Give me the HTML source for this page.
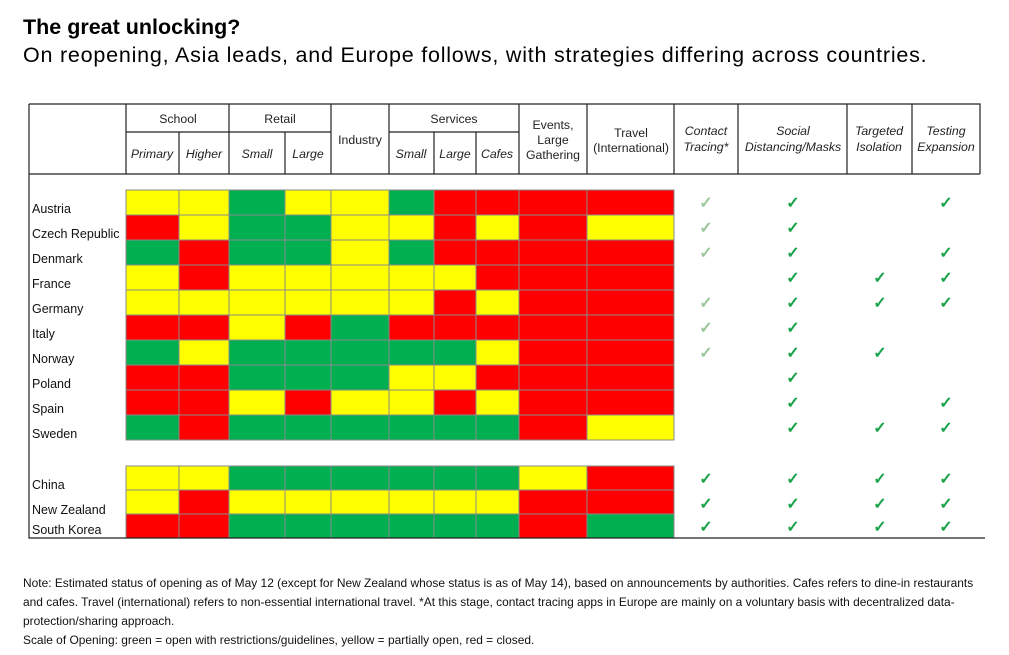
<!DOCTYPE html>
<html><head><meta charset="utf-8"><style>
body{margin:0;background:#fff;width:1009px;height:655px;overflow:hidden;font-family:"Liberation Sans",Arial,sans-serif;}
.t{position:absolute;left:23px;top:15px;font-size:21.5px;font-weight:bold;color:#000}
.s{position:absolute;left:23px;top:43px;font-size:21.5px;letter-spacing:0.78px;color:#000;white-space:nowrap}
.n{position:absolute;left:23px;top:574px;font-size:11.95px;line-height:19px;color:#111;white-space:nowrap}
svg{position:absolute;left:0;top:0}
</style></head><body>
<div class="t">The great unlocking?</div>
<div class="s">On reopening, Asia leads, and Europe follows, with strategies differing across countries.</div>
<svg width="1009" height="655" font-family="Liberation Sans, Arial, sans-serif" font-size="12.3">
<g id="cells"></g>
<g stroke="#222" stroke-width="1.2" fill="none">
<path d="M29 104H980V174M29 104V538H985M29 174H980"/>
<path d="M126 104V174M179 132V174M229 104V174M285 132V174M331 104V174M389 104V174M434 132V174M476 132V174M519 104V174M587 104V174M674 104V174M738 104V174M847 104V174M912 104V174"/>
<path d="M126 132H331M389 132H519"/>
</g>
<g fill="#222" text-anchor="middle">
<text x="178" y="123">School</text><text x="280" y="123">Retail</text><text x="454" y="123">Services</text>
<text x="360" y="144">Industry</text>
<g font-style="italic"><text x="152" y="158">Primary</text><text x="204" y="158">Higher</text><text x="257" y="158">Small</text><text x="308" y="158">Large</text><text x="411" y="158">Small</text><text x="455" y="158">Large</text><text x="497" y="158">Cafes</text></g>
<text x="553" y="129">Events,</text><text x="553" y="144">Large</text><text x="553" y="159">Gathering</text>
<text x="631" y="137">Travel</text><text x="631" y="152">(International)</text>
<g font-style="italic"><text x="706" y="135">Contact</text><text x="706" y="151">Tracing*</text>
<text x="793" y="135">Social</text><text x="793" y="151">Distancing/Masks</text>
<text x="879" y="135">Targeted</text><text x="879" y="151">Isolation</text>
<text x="946" y="135">Testing</text><text x="946" y="151">Expansion</text></g>
</g>
<g fill="#111" font-size="12.5">
<text x="32" y="213">Austria</text><text x="32" y="238">Czech Republic</text><text x="32" y="263">Denmark</text><text x="32" y="288">France</text><text x="32" y="313">Germany</text><text x="32" y="338">Italy</text><text x="32" y="363">Norway</text><text x="32" y="388">Poland</text><text x="32" y="413">Spain</text><text x="32" y="438">Sweden</text>
<text x="32" y="489">China</text><text x="32" y="514">New Zealand</text><text x="32" y="534">South Korea</text>
</g>
<g font-size="16" font-weight="bold" text-anchor="middle" fill="#1aa34a">
<g fill="#9cc79c"><text x="706" y="208">✓</text><text x="706" y="233">✓</text><text x="706" y="258">✓</text><text x="706" y="308">✓</text><text x="706" y="333">✓</text><text x="706" y="358">✓</text></g>
<text x="793" y="208">✓</text><text x="793" y="233">✓</text><text x="793" y="258">✓</text><text x="793" y="283">✓</text><text x="793" y="308">✓</text><text x="793" y="333">✓</text><text x="793" y="358">✓</text><text x="793" y="383">✓</text><text x="793" y="408">✓</text><text x="793" y="433">✓</text>
<text x="880" y="283">✓</text><text x="880" y="308">✓</text><text x="880" y="358">✓</text><text x="880" y="433">✓</text>
<text x="946" y="208">✓</text><text x="946" y="258">✓</text><text x="946" y="283">✓</text><text x="946" y="308">✓</text><text x="946" y="408">✓</text><text x="946" y="433">✓</text>
<text x="706" y="484">✓</text><text x="706" y="509">✓</text><text x="706" y="532">✓</text>
<text x="793" y="484">✓</text><text x="793" y="509">✓</text><text x="793" y="532">✓</text>
<text x="880" y="484">✓</text><text x="880" y="509">✓</text><text x="880" y="532">✓</text>
<text x="946" y="484">✓</text><text x="946" y="509">✓</text><text x="946" y="532">✓</text>
</g>
</svg>
<div class="n">Note: Estimated status of opening as of May 12 (except for New Zealand whose status is as of May 14), based on announcements by authorities. Cafes refers to dine-in restaurants<br>and cafes. Travel (international) refers to non-essential international travel. *At this stage, contact tracing apps in Europe are mainly on a voluntary basis with decentralized data-<br>protection/sharing approach.<br>Scale of Opening: green = open with restrictions/guidelines, yellow = partially open, red = closed.</div>
<script>
var xs=[126,179,229,285,331,389,434,476,519,587,674];
var rows=["YYGYYGRRRR","RYGGYYRYRY","GRGGYGRRRR","YRYYYYYRRR","YYYYYYRYRR","RRYRGRRRRR","GYGGGGGYRR","RRGGGYYRRR","RRYRYYRYRR","GRGGGGGGRY","YYGGGGGGYR","YRYYYYYYRR","RRGGGGGGRG"];
var ys=[190,215,240,265,290,315,340,365,390,415,466,490,514],hs=[25,25,25,25,25,25,25,25,25,25,24,24,24];
var col={Y:"#ffff00",G:"#00b050",R:"#ff0000"},h="";
rows.forEach(function(r,i){for(var j=0;j<10;j++)h+='<rect x="'+xs[j]+'" y="'+ys[i]+'" width="'+(xs[j+1]-xs[j])+'" height="'+hs[i]+'" fill="'+col[r[j]]+'" stroke="#8a8a8a" stroke-width="1"/>';});
document.getElementById("cells").innerHTML=h;
</script>
</body></html>
